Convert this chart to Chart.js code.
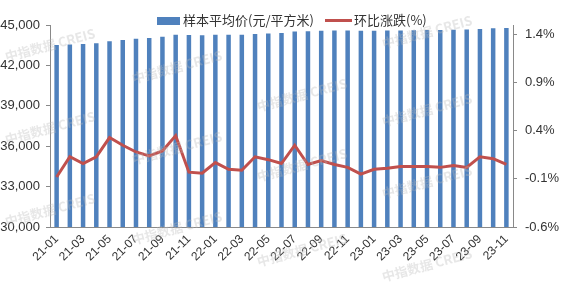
<!DOCTYPE html>
<html>
<head>
<meta charset="utf-8">
<script src="https://cdn.jsdelivr.net/npm/chart.js@4.4.1/dist/chart.umd.min.js"></script>
<style>
    html, body { margin: 0; padding: 0; background: #fff; }
    #wrap { width: 562px; height: 288px; }
</style>
</head>
<body>
<div id="wrap"><canvas id="priceChart" width="562" height="288"></canvas></div>
<script>
const months = [
    '21-01', '21-02', '21-03', '21-04', '21-05', '21-06', '21-07', '21-08', '21-09', '21-10', '21-11', '21-12',
    '22-01', '22-02', '22-03', '22-04', '22-05', '22-06', '22-07', '22-08', '22-09', '22-10', '22-11', '22-12',
    '23-01', '23-02', '23-03', '23-04', '23-05', '23-06', '23-07', '23-08', '23-09', '23-10', '23-11'
];
const avgPrice = [
    43510, 43560, 43590, 43650, 43790, 43890, 43970, 44030, 44120, 44270, 44260, 44240,
    44270, 44270, 44270, 44330, 44370, 44400, 44510, 44530, 44570, 44590, 44600, 44580,
    44580, 44590, 44600, 44610, 44620, 44630, 44650, 44660, 44710, 44760, 44780
];
const momChange = [
    -0.08, 0.13, 0.06, 0.13, 0.33, 0.25, 0.18, 0.14, 0.19, 0.35, -0.03, -0.04,
    0.07, 0.00, -0.01, 0.13, 0.10, 0.06, 0.25, 0.05, 0.09, 0.05, 0.02, -0.05,
    0.00, 0.01, 0.03, 0.03, 0.03, 0.02, 0.04, 0.02, 0.13, 0.11, 0.05
];
const rightTicks = [-0.6, -0.1, 0.4, 0.9, 1.4];

const seriesNames = ['样本平均价(元/平方米)', '环比涨跌(%)'];
const barColor = '#4f81bd';
const lineColor = '#c0504d';
const axisColor = '#898989';
const textColor = '#333333';
const fontFamily = '"Liberation Sans", "Noto Sans CJK SC", sans-serif';

// faint "中指数据 CREIS" watermarks
const watermarkSpots = [
    [50, 45], [50, 128], [50, 210],
    [177, 67], [177, 148], [177, 228],
    [302, 95], [302, 165], [302, 250],
    [427, 32], [427, 110], [427, 182], [427, 265]
];

const watermark = {
    id: 'watermark',
    afterDatasetsDraw(chart) {
        const ctx = chart.ctx;
        ctx.save();
        ctx.font = 'bold 13px "Noto Sans CJK SC", sans-serif';
        ctx.fillStyle = 'rgba(185, 185, 185, 0.35)';
        ctx.textAlign = 'center';
        ctx.textBaseline = 'middle';
        watermarkSpots.forEach(([x, y]) => {
            ctx.save();
            ctx.translate(x, y);
            ctx.rotate(-15 * Math.PI / 180);
            ctx.fillText('中指数据 CREIS', 0, 0);
            ctx.restore();
        });
        ctx.restore();
    }
};

const topLegend = {
    id: 'topLegend',
    afterDraw(chart) {
        const ctx = chart.ctx;
        ctx.save();
        ctx.font = '13px "Noto Sans CJK SC", sans-serif';
        ctx.fillStyle = textColor;
        ctx.textBaseline = 'middle';
        ctx.textAlign = 'left';

        ctx.fillStyle = barColor;
        ctx.fillRect(157, 17, 23, 8);
        ctx.fillStyle = textColor;
        ctx.fillText(seriesNames[0], 183, 20);

        ctx.strokeStyle = lineColor;
        ctx.lineWidth = 3;
        ctx.beginPath();
        ctx.moveTo(325, 20.5);
        ctx.lineTo(352, 20.5);
        ctx.stroke();
        ctx.fillText(seriesNames[1], 354, 20);
        ctx.restore();
    }
};

const data = {
    labels: months,
    datasets: [
        {
            type: 'line',
            label: seriesNames[1],
            data: momChange,
            yAxisID: 'y1',
            borderColor: lineColor,
            borderWidth: 3,
            pointRadius: 0,
            tension: 0,
            order: 0
        },
        {
            type: 'bar',
            label: seriesNames[0],
            data: avgPrice,
            yAxisID: 'y',
            backgroundColor: barColor,
            categoryPercentage: 1,
            barPercentage: 0.34,
            order: 1
        }
    ]
};

const options = {
    responsive: false,
    animation: false,
    layout: { padding: { top: 25, left: 0, right: 0, bottom: 0 } },
    plugins: {
        legend: { display: false },
        tooltip: { enabled: false }
    },
    scales: {
        x: {
            offset: true,
            grid: { display: false, drawTicks: false },
            border: { display: true, color: axisColor, width: 1 },
            ticks: {
                autoSkip: false,
                minRotation: 45,
                maxRotation: 45,
                padding: 5,
                color: textColor,
                font: { family: fontFamily, size: 12 },
                callback: function (val, i) {
                    return i % 2 === 0 ? this.getLabelForValue(val) : '';
                }
            },
            afterFit(scale) { scale.height = 61; }
        },
        y: {
            position: 'left',
            min: 30000,
            max: 45000,
            grid: { drawOnChartArea: false, drawTicks: true, tickLength: 4, color: axisColor },
            border: { display: true, color: axisColor, width: 1 },
            ticks: {
                stepSize: 3000,
                padding: 6,
                color: textColor,
                font: { family: fontFamily, size: 13 }
            },
            afterFit(scale) { scale.width = 50; }
        },
        y1: {
            position: 'right',
            min: -0.6,
            max: 1.5,
            grid: { drawOnChartArea: false, drawTicks: true, tickLength: 4, color: axisColor },
            border: { display: true, color: axisColor, width: 1 },
            afterBuildTicks(scale) {
                scale.ticks = rightTicks.map(v => ({ value: v }));
            },
            ticks: {
                padding: 8,
                color: textColor,
                font: { family: fontFamily, size: 13 },
                callback: v => v.toFixed(1) + '%'
            },
            afterFit(scale) { scale.width = 49; }
        }
    }
};

new Chart(document.getElementById('priceChart'), {
    type: 'bar',
    data,
    options,
    plugins: [watermark, topLegend]
});
</script>
</body>
</html>
